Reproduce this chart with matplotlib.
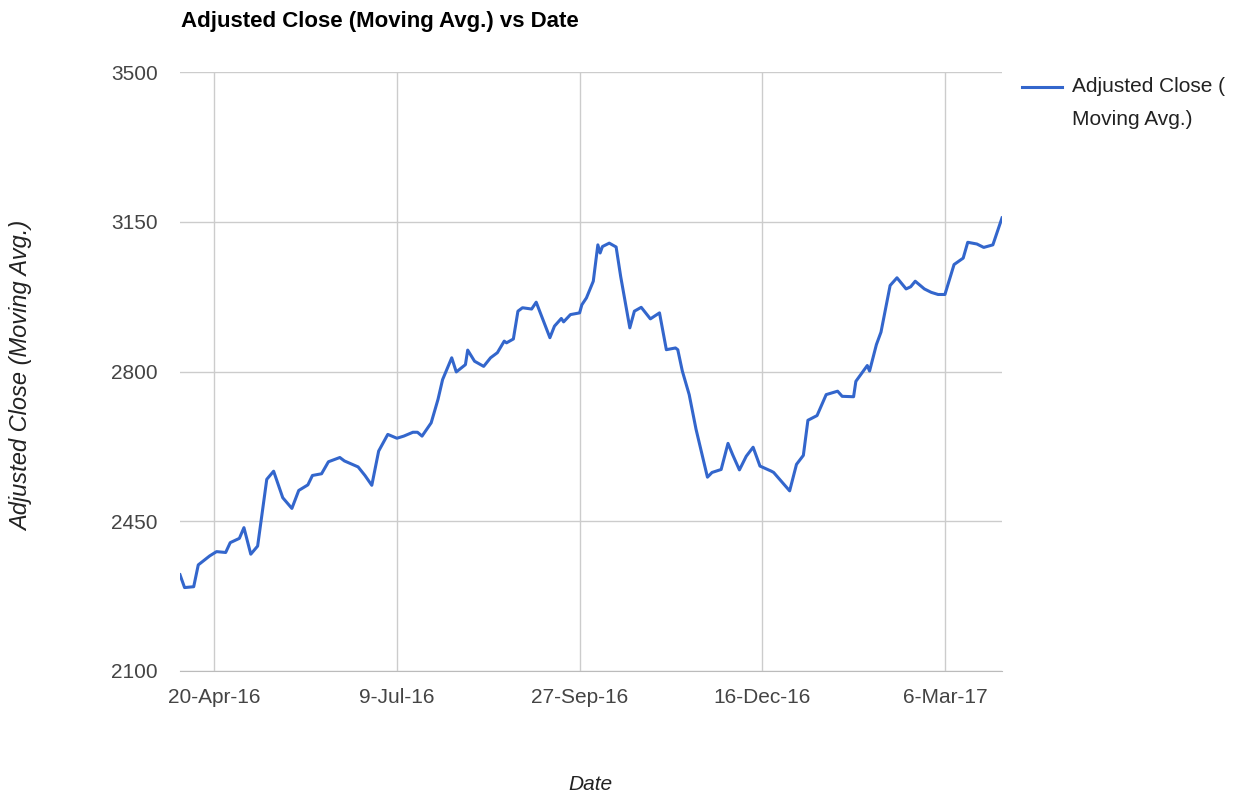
import matplotlib
matplotlib.use('Agg')
import matplotlib.pyplot as plt
import matplotlib.dates as mdates
from matplotlib.lines import Line2D
import pandas as pd

plt.rcParams['font.family'] = ['Liberation Sans', 'DejaVu Sans']

# 数据
dates = ['2016-04-05', '2016-04-07', '2016-04-11', '2016-04-13', '2016-04-18', '2016-04-21',
         '2016-04-25', '2016-04-27', '2016-05-01', '2016-05-03', '2016-05-06', '2016-05-09',
         '2016-05-13', '2016-05-16', '2016-05-20', '2016-05-24', '2016-05-27', '2016-05-31',
         '2016-06-02', '2016-06-06', '2016-06-09', '2016-06-14', '2016-06-16', '2016-06-22',
         '2016-06-25', '2016-06-28', '2016-07-01', '2016-07-05', '2016-07-09', '2016-07-12',
         '2016-07-16', '2016-07-18', '2016-07-20', '2016-07-24', '2016-07-27', '2016-07-29',
         '2016-08-02', '2016-08-04', '2016-08-08', '2016-08-09', '2016-08-12', '2016-08-16',
         '2016-08-19', '2016-08-22', '2016-08-25', '2016-08-26', '2016-08-29', '2016-08-31',
         '2016-09-02', '2016-09-06', '2016-09-08', '2016-09-14', '2016-09-16', '2016-09-19',
         '2016-09-20', '2016-09-23', '2016-09-27', '2016-09-28', '2016-09-30', '2016-10-03',
         '2016-10-05', '2016-10-06', '2016-10-07', '2016-10-10', '2016-10-13', '2016-10-15',
         '2016-10-19', '2016-10-21', '2016-10-24', '2016-10-28', '2016-11-01', '2016-11-04',
         '2016-11-08', '2016-11-09', '2016-11-11', '2016-11-14', '2016-11-17', '2016-11-22',
         '2016-11-24', '2016-11-28', '2016-12-01', '2016-12-03', '2016-12-06', '2016-12-09',
         '2016-12-12', '2016-12-15', '2016-12-20', '2016-12-21', '2016-12-28', '2016-12-31',
         '2017-01-03', '2017-01-05', '2017-01-09', '2017-01-13', '2017-01-18', '2017-01-20',
         '2017-01-25', '2017-01-26', '2017-01-31', '2017-02-01', '2017-02-04', '2017-02-06',
         '2017-02-10', '2017-02-13', '2017-02-17', '2017-02-19', '2017-02-21', '2017-02-25',
         '2017-02-28', '2017-03-03', '2017-03-06', '2017-03-10', '2017-03-14', '2017-03-16',
         '2017-03-20', '2017-03-23', '2017-03-27', '2017-03-31']
adj_close = [2325, 2295, 2297, 2348, 2369, 2379,
             2377, 2400, 2410, 2435, 2373, 2392,
             2548, 2567, 2505, 2480, 2522, 2535,
             2557, 2561, 2589, 2599, 2591, 2577,
             2557, 2534, 2614, 2653, 2644, 2649,
             2658, 2658, 2649, 2680, 2735, 2781,
             2832, 2799, 2816, 2850, 2824, 2812,
             2832, 2844, 2871, 2867, 2876, 2941,
             2949, 2946, 2962, 2879, 2906, 2924,
             2916, 2933, 2937, 2956, 2972, 3011,
             3096, 3077, 3092, 3100, 3091, 3022,
             2902, 2941, 2950, 2923, 2937, 2851,
             2855, 2851, 2801, 2746, 2665, 2553,
             2564, 2571, 2632, 2606, 2570, 2602,
             2623, 2579, 2567, 2564, 2521, 2583,
             2604, 2686, 2697, 2746, 2754, 2742,
             2741, 2777, 2814, 2801, 2863, 2892,
             3001, 3019, 2993, 2998, 3011, 2993,
             2985, 2980, 2980, 3050, 3065, 3102,
             3098, 3090, 3096, 3159]

tick_dates = ['2016-04-20', '2016-07-09', '2016-09-27', '2016-12-16', '2017-03-06']
y_ticks = [2100, 2450, 2800, 3150, 3500]

series_name = 'Adjusted Close (\nMoving Avg.)'
line_color = '#3366cc'

x = pd.to_datetime(dates)

fig = plt.figure(figsize=(12.41, 7.98), dpi=100)
ax = fig.add_axes([180 / 1241, 1 - 671 / 798, (1002 - 180) / 1241, (671 - 72) / 798])

ax.plot(x, adj_close, color=line_color, linewidth=2.2, solid_joinstyle='round')

ax.set_xlim(x[0], x[-1])
ax.set_ylim(y_ticks[0], y_ticks[-1])
ax.set_yticks(y_ticks)
ax.set_xticks(pd.to_datetime(tick_dates))
ax.xaxis.set_major_formatter(plt.FuncFormatter(
    lambda v, p: mdates.num2date(v).strftime('%d-%b-%y').lstrip('0')))

ax.grid(True, color='#cccccc', linewidth=1)
ax.set_axisbelow(True)
for s in ['top', 'right', 'left']:
    ax.spines[s].set_visible(False)
ax.spines['bottom'].set_color('#bbbbbb')
ax.tick_params(length=0, labelsize=15, colors='#444444')
ax.tick_params(axis='y', pad=16)
ax.tick_params(axis='x', pad=12)

fig.text(181 / 1241, 1 - 22 / 798, 'Adjusted Close (Moving Avg.) vs Date',
         fontsize=16, fontweight='bold', ha='left', va='center', color='#000000')
fig.text(590 / 1241, 1 - 785 / 798, 'Date', fontsize=15, style='italic',
         ha='center', va='center', color='#222222')
fig.text(22 / 1241, 1 - 376 / 798, 'Adjusted Close (Moving Avg.)', fontsize=17,
         style='italic', rotation=90, ha='center', va='center', color='#222222')

# 图例
fig.add_artist(Line2D([1022 / 1241, 1062 / 1241], [1 - 87 / 798, 1 - 87 / 798],
                      color=line_color, linewidth=2.2, transform=fig.transFigure))
fig.text(1072 / 1241, 1 - 77 / 798, series_name, fontsize=15, ha='left', va='top',
         color='#222222', linespacing=1.95)

fig.savefig('out.png', dpi=100)
